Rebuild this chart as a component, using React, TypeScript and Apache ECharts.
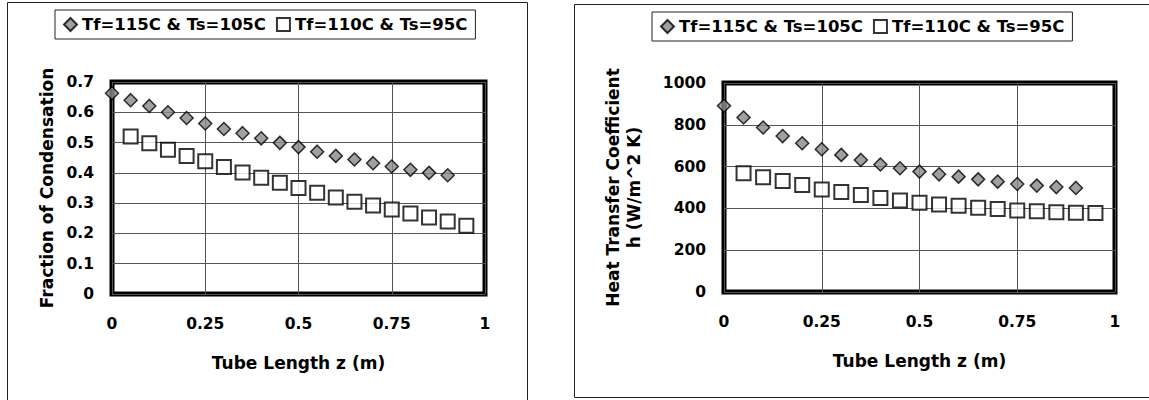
import React, { useEffect, useRef } from "react";
import * as echarts from "echarts";

const SERIES_A = "Tf=115C & Ts=105C";
const SERIES_B = "Tf=110C & Ts=95C";

const zHot = [0, 0.05, 0.1, 0.15, 0.2, 0.25, 0.3, 0.35, 0.4, 0.45, 0.5, 0.55, 0.6, 0.65, 0.7, 0.75, 0.8, 0.85, 0.9];
const zCold = [0.05, 0.1, 0.15, 0.2, 0.25, 0.3, 0.35, 0.4, 0.45, 0.5, 0.55, 0.6, 0.65, 0.7, 0.75, 0.8, 0.85, 0.9, 0.95];

const fracHot = [0.663, 0.64, 0.621, 0.6, 0.581, 0.563, 0.545, 0.531, 0.514, 0.499, 0.485, 0.47, 0.456, 0.444, 0.432, 0.421, 0.41, 0.4, 0.392];
const fracCold = [0.52, 0.498, 0.476, 0.456, 0.438, 0.419, 0.401, 0.384, 0.367, 0.35, 0.334, 0.319, 0.305, 0.292, 0.279, 0.266, 0.253, 0.239, 0.225];
const hHot = [891, 835, 787, 746, 712, 683, 656, 632, 610, 592, 576, 563, 552, 539, 528, 517, 509, 502, 498];
const hCold = [568, 549, 531, 512, 491, 478, 464, 450, 438, 427, 419, 413, 403, 397, 390, 386, 382, 379, 378];

const xTitle = "Tube Length z (m)";
const yTitleLeft = "Fraction of Condensation";
const yTitleRight = "Heat Transfer Coefficient\nh (W/m^2 K)";

const FONT = "DejaVu Sans";

const pairs = (xs: number[], ys: number[]) => xs.map((x, i) => [x, ys[i]]);

export default function App() {
  const ref = useRef<HTMLDivElement>(null);
  useEffect(() => {
    if (!ref.current) return;
    const chart = echarts.init(ref.current, null, { renderer: "svg" });
    const tick = { fontFamily: FONT, fontWeight: "bold", fontSize: 15.5, color: "#000" };
    const nameStyle = { fontFamily: FONT, fontWeight: "bold", fontSize: 17, color: "#000" };
    const split = { show: true, lineStyle: { color: "#555", width: 1 } };
    const plain = (v: number) => String(v);
    const xAxisBase = (gi: number) => ({
      type: "value",
      gridIndex: gi,
      min: 0,
      max: 1,
      interval: 0.25,
      axisLine: { show: false },
      axisTick: { show: false },
      splitLine: split,
      axisLabel: { ...tick, margin: 22, formatter: plain },
      name: xTitle,
      nameLocation: "middle",
      nameGap: 60,
      nameTextStyle: nameStyle,
    });
    const diamondStyle = { color: "#888888", borderColor: "#000", borderWidth: 1.5 };
    const squareStyle = { color: "#ffffff", borderColor: "#000", borderWidth: 2 };
    const legendBase = {
      orient: "horizontal",
      data: [SERIES_A, SERIES_B],
      itemWidth: 13,
      itemHeight: 13,
      itemGap: 10,
      padding: [6, 8],
      borderColor: "#222",
      borderWidth: 1,
      selectedMode: false,
      textStyle: { fontFamily: FONT, fontWeight: "bold", fontSize: 16.5, color: "#000" },
    };
    chart.setOption({
      animation: false,
      backgroundColor: "#fff",
      graphic: [
        { type: "rect", shape: { x: 7.5, y: 2.5, width: 520, height: 420 }, style: { fill: "none", stroke: "#222", lineWidth: 1 }, z: -1 },
        { type: "rect", shape: { x: 574.5, y: 4.5, width: 600, height: 393 }, style: { fill: "none", stroke: "#222", lineWidth: 1 }, z: -1 },
      ],
      legend: [
        { ...legendBase, left: 55, top: 10 },
        { ...legendBase, left: 652, top: 12 },
      ],
      grid: [
        { left: 112, top: 82, width: 373, height: 212, show: true, borderColor: "#000", borderWidth: 5, backgroundColor: "transparent" },
        { left: 724, top: 83, width: 391, height: 209, show: true, borderColor: "#000", borderWidth: 5, backgroundColor: "transparent" },
      ],
      xAxis: [xAxisBase(0), xAxisBase(1)],
      yAxis: [
        {
          type: "value",
          gridIndex: 0,
          min: 0,
          max: 0.7,
          interval: 0.1,
          axisLine: { show: false },
          axisTick: { show: false },
          splitLine: split,
          axisLabel: { ...tick, margin: 18, formatter: plain },
          name: yTitleLeft,
          nameLocation: "middle",
          nameGap: 57,
          nameTextStyle: nameStyle,
        },
        {
          type: "value",
          gridIndex: 1,
          min: 0,
          max: 1000,
          interval: 200,
          axisLine: { show: false },
          axisTick: { show: false },
          splitLine: split,
          axisLabel: { ...tick, margin: 18, formatter: plain },
          name: yTitleRight,
          nameLocation: "middle",
          nameGap: 80,
          nameTextStyle: { ...nameStyle, lineHeight: 21 },
        },
      ],
      series: [
        { name: SERIES_A, type: "scatter", xAxisIndex: 0, yAxisIndex: 0, symbol: "diamond", symbolSize: 13, itemStyle: diamondStyle, data: pairs(zHot, fracHot), clip: false },
        { name: SERIES_B, type: "scatter", xAxisIndex: 0, yAxisIndex: 0, symbol: "rect", symbolSize: 14, itemStyle: squareStyle, data: pairs(zCold, fracCold), clip: false },
        { name: SERIES_A, type: "scatter", xAxisIndex: 1, yAxisIndex: 1, symbol: "diamond", symbolSize: 13, itemStyle: diamondStyle, data: pairs(zHot, hHot), clip: false },
        { name: SERIES_B, type: "scatter", xAxisIndex: 1, yAxisIndex: 1, symbol: "rect", symbolSize: 14, itemStyle: squareStyle, data: pairs(zCold, hCold), clip: false },
      ],
    });
    return () => chart.dispose();
  }, []);
  return (
    <div style={{ position: "absolute", left: 0, top: 0, width: 1149, height: 400, background: "#fff" }}>
      <div ref={ref} style={{ width: 1149, height: 400 }} />
    </div>
  );
}
